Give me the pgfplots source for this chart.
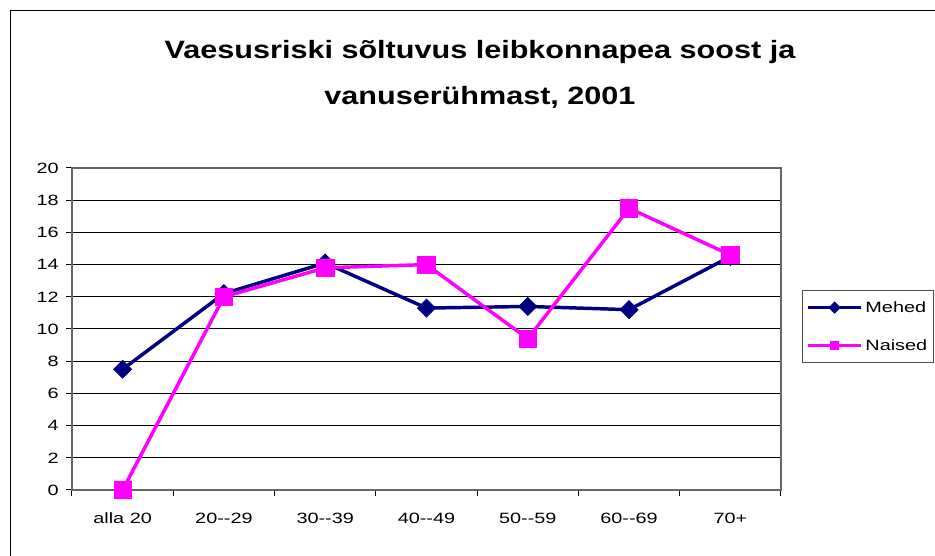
\documentclass[border=0pt]{standalone}
\usepackage{pgfplots}
\pgfplotsset{compat=1.18}
\usepackage{fontspec}
\setmainfont{Liberation Sans}
\newfontfamily\widefont[FakeStretch=1.33]{Liberation Sans}
\newfontfamily\titlefont[FakeStretch=1.22]{Liberation Sans}
\definecolor{mehed}{HTML}{000080}
\definecolor{naised}{HTML}{FF00FF}

\begin{document}
\begin{tikzpicture}[x=0.75pt,y=0.75pt]
\useasboundingbox (0,0) rectangle (935,556);
% chart frame (only top and left edge visible)
\draw[line width=0.75pt] (10,545.5) -- (935,545.5);
\draw[line width=0.75pt] (10,545.5) -- (10,0);

\node[font=\titlefont\fontsize{18.8}{22}\selectfont\bfseries] at (480,504)
  {Vaesusriski sõltuvus leibkonnapea soost ja};
\node[font=\titlefont\fontsize{18.8}{22}\selectfont\bfseries] at (480,459)
  {vanuserühmast, 2001};

\begin{axis}[
    at={(54pt,49.5pt)}, anchor=south west,
    scale only axis,
    width=531.75pt, height=241.5pt,
    xmin=-0.5, xmax=6.5,
    ymin=0, ymax=20,
    ytick={0,2,...,20},
    xtick={0,...,6},
    xticklabels={alla 20,20-{}-29,30-{}-39,40-{}-49,50-{}-59,60-{}-69,70+},
    minor xtick={-0.5,0.5,...,6.5},
    major x tick style={draw=none},
    tick pos=left,
    tick align=outside,
    major tick length=4.5pt,
    minor tick length=4.5pt,
    tick style={black, line width=0.75pt},
    ymajorgrids,
    grid style={black, line width=0.75pt},
    axis line style={gray!80!black, line width=0.9pt},
    /pgf/number format/assume math mode=true,
    ticklabel style={font=\widefont\fontsize{11.2}{13}\selectfont},
    xticklabel style={yshift=-9pt},
    yticklabel style={xshift=-2pt},
    legend style={at={(rel axis cs:1.0296,0.621)}, anchor=north west,
        draw=black!70, line width=0.75pt,
        font=\widefont\fontsize{11.2}{13}\selectfont,
        inner xsep=3pt, inner ysep=6pt, row sep=15pt},
    legend cell align=left,
    legend image code/.code={
        \draw[mark repeat=2, mark phase=2, #1]
            plot coordinates {(0pt,0pt) (20pt,0pt) (40pt,0pt)};},
    legend image post style={line width=2.2pt, mark size=3pt},
    clip=false,
]
\addplot[color=mehed, line width=2.6pt, mark=square*, mark size=4.8pt,
    mark options={rotate=45, line width=0.5pt}]
    coordinates {
    (0, 7.5)
    (1, 12.2)
    (2, 14.1)
    (3, 11.3)
    (4, 11.4)
    (5, 11.2)
    (6, 14.5)
    };
\addlegendentry{Mehed}
\addplot[color=naised, line width=2.6pt, mark=square*, mark size=6.5pt,
    mark options={line width=0.5pt}]
    coordinates {
    (0, 0)
    (1, 12.0)
    (2, 13.8)
    (3, 14.0)
    (4, 9.4)
    (5, 17.5)
    (6, 14.6)
    };
\addlegendentry{Naised}
\end{axis}
\end{tikzpicture}
\end{document}
